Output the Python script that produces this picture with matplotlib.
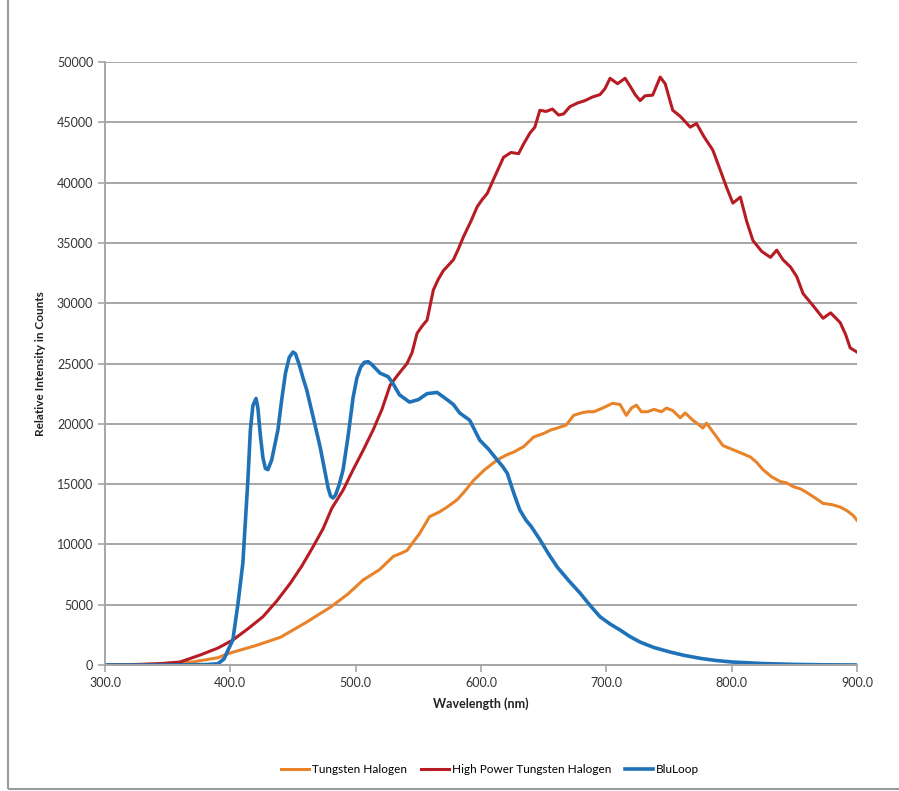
import matplotlib
matplotlib.use('Agg')
import matplotlib.pyplot as plt
from matplotlib.patches import Rectangle

plt.rcParams['font.family'] = ['Lato', 'DejaVu Sans']

# Tungsten Halogen
th_nm = [300, 340, 370, 390, 400, 420, 440, 460, 480, 494,
         506, 519, 530, 537, 541, 551, 559, 567, 573, 581,
         587, 594, 603, 613, 620, 626, 634, 642, 650, 656,
         661, 668, 674, 680, 685, 690, 697, 705, 711, 716,
         720, 724, 728, 733, 738, 744, 748, 753, 759, 763,
         769, 773, 777, 780, 786, 793, 800, 807, 815, 820,
         825, 832, 839, 844, 849, 855, 860, 866, 873, 880,
         886.6, 892, 897, 900]
th_val = [0, 80, 250, 600, 1000, 1600, 2300, 3500, 4800, 5900,
          7050, 7900, 9000, 9300, 9500, 10900, 12300, 12700, 13100, 13700,
          14400, 15300, 16200, 17000, 17400, 17650, 18100, 18900, 19200, 19500,
          19650, 19900, 20700, 20900, 21000, 21000, 21300, 21700, 21600, 20700,
          21300, 21550, 21000, 21000, 21200, 21000, 21300, 21100, 20500, 20900,
          20300, 20000, 19650, 20050, 19200, 18200, 17900, 17600, 17250, 16800,
          16200, 15600, 15200, 15100, 14800, 14600, 14300, 13900, 13400, 13300,
          13100, 12800, 12400, 12000]

# High Power Tungsten Halogen
hp_nm = [300, 330, 345, 360, 376, 390, 402, 414, 426, 437,
         448, 457, 466, 474, 481, 490, 498, 506, 514, 521,
         527.5, 534, 541, 545, 549, 553, 557, 562, 566, 570,
         578, 582, 586, 592, 597, 601, 605, 611, 618, 624,
         630, 634, 639, 643, 647, 652, 657, 662, 666, 671,
         677, 683, 689, 695, 699, 703, 709, 715, 719, 723,
         727, 731, 737, 740, 743, 747, 753, 759, 767, 772,
         778, 785, 790, 796, 801, 807, 812, 817, 824, 831,
         836, 841, 847, 852, 857, 865, 873, 879, 886.6, 891,
         894.6, 900]
hp_val = [0, 50, 120, 250, 830, 1400, 2070, 3000, 4000, 5300,
          6800, 8200, 9800, 11300, 13000, 14500, 16200, 17800, 19500, 21200,
          23200, 24100, 25000, 25900, 27500, 28100, 28600, 31100, 32000, 32700,
          33600, 34500, 35500, 36800, 38000, 38600, 39100, 40500, 42100, 42500,
          42400, 43200, 44100, 44600, 46000, 45900, 46100, 45600, 45700, 46300,
          46600, 46800, 47100, 47300, 47800, 48650, 48200, 48650, 48000, 47300,
          46800, 47200, 47250, 48000, 48750, 48200, 46000, 45500, 44600, 44900,
          43800, 42700, 41300, 39600, 38300, 38800, 36800, 35200, 34300, 33800,
          34400, 33600, 33000, 32200, 30800, 29800, 28750, 29200, 28400, 27400,
          26300, 25950]

# BluLoop
bl_nm = [300, 350, 380, 390, 395, 398, 402, 406, 410, 414,
         416, 418, 420.5, 422, 424, 426, 428, 430, 433, 438,
         441, 444, 447, 450, 452, 455, 458, 461, 466, 471.6,
         475, 478, 480, 482, 484, 487, 490, 494, 498, 501,
         504, 507, 510, 513, 519.5, 526, 530, 535, 543, 550,
         557, 565, 573, 578, 583, 591, 599, 606, 613, 617,
         621, 626, 631, 636, 640, 647, 654, 661, 670, 679,
         687, 695, 703, 711, 719, 727, 738, 750, 762, 775,
         787, 800, 825, 850, 875, 900]
bl_val = [0, 0, 30, 100, 500, 1200, 2070, 5000, 8450, 15300,
          19500, 21500, 22100, 21300, 19000, 17200, 16300, 16200, 17000, 19500,
          22000, 24200, 25500, 25950, 25800, 24900, 23800, 22800, 20600, 18100,
          16300, 14700, 14000, 13850, 14100, 15000, 16200, 19000, 22200, 23800,
          24700, 25100, 25150, 24900, 24200, 23900, 23300, 22400, 21800, 22000,
          22500, 22600, 22000, 21600, 20900, 20300, 18650, 17900, 17000, 16500,
          15900, 14300, 12850, 12000, 11500, 10400, 9200, 8100, 7000, 5970,
          4950, 4000, 3400, 2900, 2350, 1900, 1450, 1100, 800, 550,
          380, 250, 120, 50, 15, 0]

x_ticks = [300, 400, 500, 600, 700, 800, 900]
y_ticks = [0, 5000, 10000, 15000, 20000, 25000, 30000, 35000, 40000, 45000, 50000]

fig = plt.figure(figsize=(8.99, 7.91), dpi=100)
ax = fig.add_axes([0.1168, 0.1593, 0.8364, 0.7623])

ax.plot(th_nm, th_val, color='#E8832A', lw=2.2, solid_joinstyle='round', label='Tungsten Halogen')
ax.plot(hp_nm, hp_val, color='#B71C24', lw=2.2, solid_joinstyle='round', label='High Power Tungsten Halogen')
ax.plot(bl_nm, bl_val, color='#1F72B8', lw=2.6, solid_joinstyle='round', label='BluLoop')

ax.set_xlim(300, 900)
ax.set_ylim(0, 50000)
ax.set_xticks(x_ticks)
ax.set_xticklabels(['%.1f' % t for t in x_ticks])
ax.set_yticks(y_ticks)
ax.grid(axis='y', color='#a6a6a6', lw=1.4)
ax.set_axisbelow(True)
for s in ['top', 'right']:
    ax.spines[s].set_visible(False)
for s in ['left', 'bottom']:
    ax.spines[s].set_color('#a6a6a6')
    ax.spines[s].set_linewidth(1.4)
ax.tick_params(axis='both', colors='#a6a6a6', labelcolor='#333333',
               labelsize=9, length=5, width=1.2)

ax.set_xlabel('Wavelength (nm)', fontsize=9, fontweight='bold', color='#222222', labelpad=6)
ax.set_ylabel('Relative Intensity in Counts', fontsize=8.5, fontweight='bold',
              color='#222222', labelpad=8)

fig.legend(loc='center', bbox_to_anchor=(0.545, 0.027), ncol=3, frameon=False,
           fontsize=8.5, handlelength=2.4, columnspacing=1.2, handletextpad=0.2)

# outer chart frame
fig.patches.append(Rectangle((0.009, 0.003), 1.2, 1.2, transform=fig.transFigure,
                             fill=False, edgecolor='#9a9a9a', lw=1.5))

fig.savefig('out.png', dpi=100)
